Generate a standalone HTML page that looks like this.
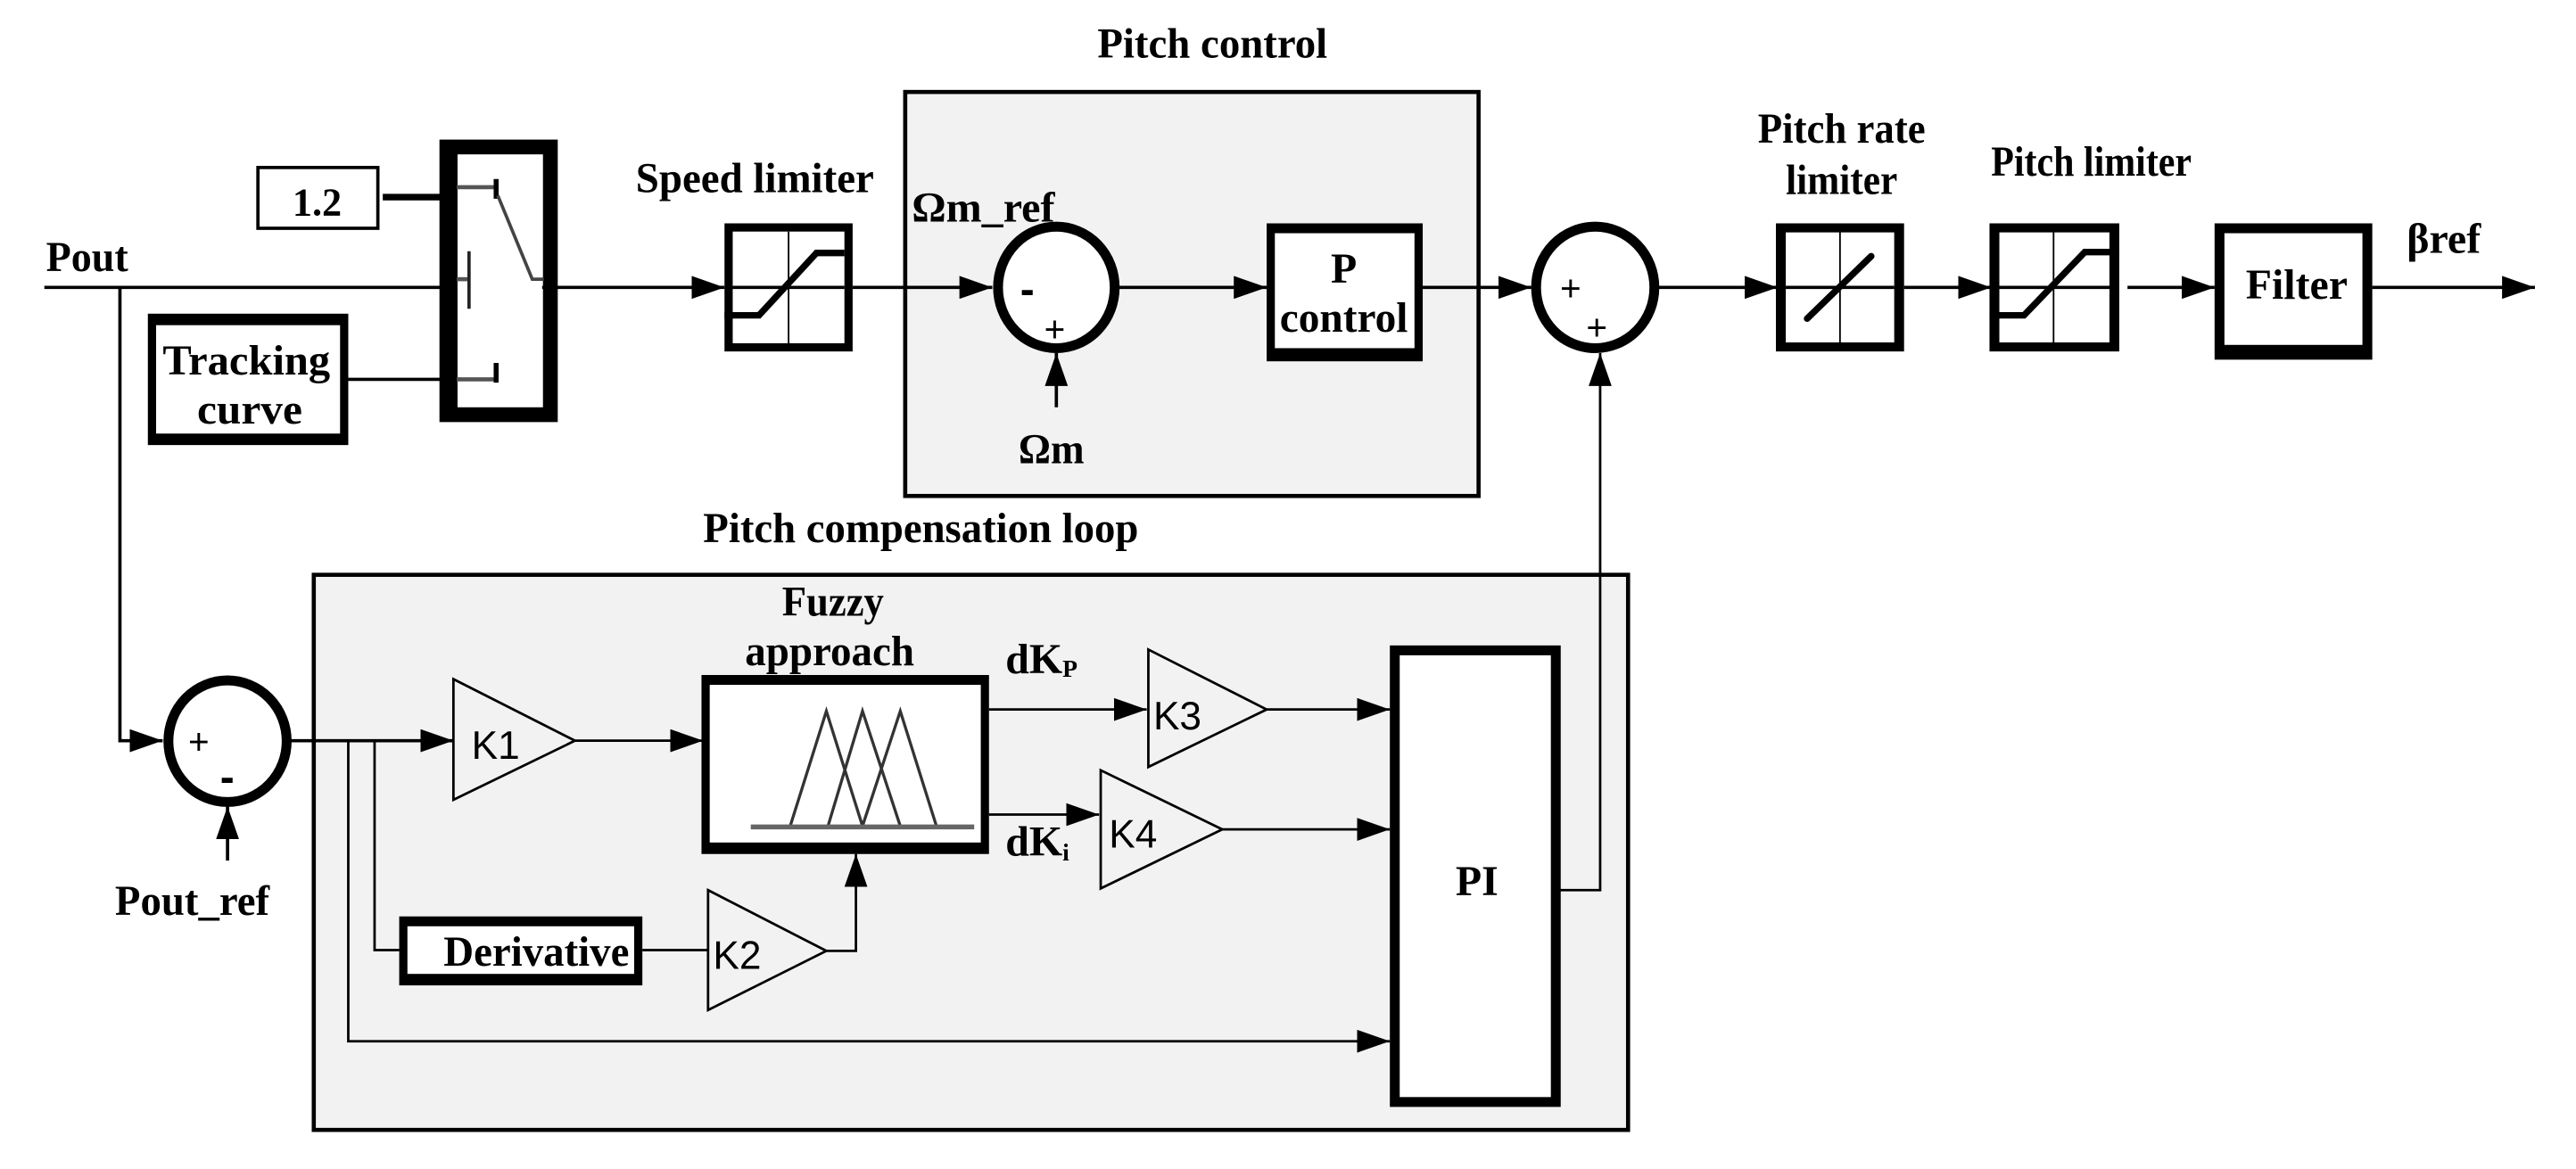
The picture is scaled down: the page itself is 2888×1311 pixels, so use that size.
<!DOCTYPE html>
<html><head><meta charset="utf-8"><style>
html,body{margin:0;padding:0;background:#fff;}
svg{display:block;}
.t{font-family:"Liberation Serif",serif;font-weight:bold;fill:#000;}
.k{font-family:"Liberation Sans",sans-serif;fill:#000;}
</style></head><body>
<svg width="2888" height="1311" viewBox="0 0 1568 711.8" preserveAspectRatio="none" xmlns="http://www.w3.org/2000/svg">
<defs>
<marker id="a" viewBox="0 0 20 14" refX="20" refY="7" markerWidth="20" markerHeight="14" markerUnits="userSpaceOnUse" orient="auto"><path d="M0,0 L20,7 L0,14 z" fill="#000"/></marker>
</defs>
<rect x="0" y="0" width="1568" height="712" fill="#fff"/>

<rect x="551" y="56" width="349" height="246" fill="#f2f2f2" stroke="#000" stroke-width="2.5"/>
<rect x="191" y="350" width="800" height="338" fill="#f2f2f2" stroke="#000" stroke-width="2.5"/>

<text class="t" x="668" y="35" font-size="26" textLength="140" lengthAdjust="spacingAndGlyphs">Pitch control</text>
<text class="t" x="428" y="330" font-size="26" textLength="265" lengthAdjust="spacingAndGlyphs">Pitch compensation loop</text>
<text class="t" x="387" y="117" font-size="26" textLength="145" lengthAdjust="spacingAndGlyphs">Speed limiter</text>
<text class="t" x="1070" y="87" font-size="26" textLength="102" lengthAdjust="spacingAndGlyphs">Pitch rate</text>
<text class="t" x="1087" y="118" font-size="26" textLength="68" lengthAdjust="spacingAndGlyphs">limiter</text>
<text class="t" x="1212" y="107" font-size="26" textLength="122" lengthAdjust="spacingAndGlyphs">Pitch limiter</text>
<text class="t" x="28" y="165" font-size="26" textLength="50" lengthAdjust="spacingAndGlyphs">Pout</text>
<text class="t" x="1465" y="154" font-size="26" textLength="45" lengthAdjust="spacingAndGlyphs">βref</text>

<line x1="27" y1="175" x2="268" y2="175" stroke="#000" stroke-width="2"/>
<polyline points="73,175 73,451 99,451" fill="none" stroke="#000" stroke-width="2" marker-end="url(#a)"/>

<rect x="157" y="102" width="73" height="37" fill="#fff" stroke="#000" stroke-width="2"/>
<text class="t" x="193" y="131" font-size="24" text-anchor="middle">1.2</text>
<line x1="233" y1="120" x2="268" y2="120" stroke="#000" stroke-width="4"/>

<rect x="90" y="191" width="122" height="80" fill="#000"/>
<rect x="95" y="198" width="112" height="66" fill="#fff"/>
<text class="t" x="150" y="228" font-size="26" text-anchor="middle" textLength="102" lengthAdjust="spacingAndGlyphs">Tracking</text>
<text class="t" x="152" y="258" font-size="26" text-anchor="middle" textLength="64" lengthAdjust="spacingAndGlyphs">curve</text>
<line x1="212" y1="231" x2="268" y2="231" stroke="#000" stroke-width="2"/>

<rect x="267.5" y="85" width="72" height="172" fill="#000"/>
<rect x="278.5" y="94" width="52" height="154" fill="#fff"/>
<line x1="278" y1="114" x2="302" y2="114" stroke="#555" stroke-width="2.5"/>
<line x1="302" y1="109" x2="302" y2="121" stroke="#000" stroke-width="3"/>
<polyline points="303,119 324,170 331,170" fill="none" stroke="#444" stroke-width="2"/>
<line x1="278" y1="170" x2="285" y2="170" stroke="#555" stroke-width="2.5"/>
<line x1="285.5" y1="153" x2="285.5" y2="188" stroke="#222" stroke-width="2"/>
<line x1="278" y1="231" x2="302" y2="231" stroke="#555" stroke-width="2.5"/>
<line x1="302" y1="221" x2="302" y2="233" stroke="#000" stroke-width="3"/>

<line x1="330" y1="175" x2="441" y2="175" stroke="#000" stroke-width="2" marker-end="url(#a)"/>
<rect x="441" y="136" width="78" height="78" fill="#000"/>
<rect x="446" y="141" width="68" height="68" fill="#fff"/>
<line x1="480" y1="141" x2="480" y2="209" stroke="#000" stroke-width="1"/>
<line x1="446" y1="175" x2="514" y2="175" stroke="#000" stroke-width="2"/>
<polyline points="441,192 462,192 497,154 514,154" fill="none" stroke="#000" stroke-width="4"/>

<line x1="519" y1="175" x2="604" y2="175" stroke="#000" stroke-width="2" marker-end="url(#a)"/>
<text class="t" x="555" y="135" font-size="26" textLength="87" lengthAdjust="spacingAndGlyphs">Ωm_ref</text>
<ellipse cx="643" cy="175" rx="35.5" ry="37" fill="#fff" stroke="#000" stroke-width="6"/>
<text class="k" x="621" y="185" font-size="26" font-weight="bold">-</text>
<text class="k" x="642" y="208" font-size="22" text-anchor="middle">+</text>
<line x1="643" y1="248" x2="643" y2="215" stroke="#000" stroke-width="2" marker-end="url(#a)"/>
<text class="t" x="620" y="282" font-size="26" textLength="40" lengthAdjust="spacingAndGlyphs">Ωm</text>

<line x1="681" y1="175" x2="771" y2="175" stroke="#000" stroke-width="2" marker-end="url(#a)"/>
<rect x="771" y="136" width="95" height="84" fill="#000"/>
<rect x="776" y="142" width="85" height="70" fill="#fff"/>
<text class="t" x="818" y="172" font-size="26" text-anchor="middle">P</text>
<text class="t" x="818" y="202" font-size="26" text-anchor="middle" textLength="78" lengthAdjust="spacingAndGlyphs">control</text>

<line x1="866" y1="175" x2="932" y2="175" stroke="#000" stroke-width="2" marker-end="url(#a)"/>
<ellipse cx="971" cy="175" rx="36" ry="37" fill="#fff" stroke="#000" stroke-width="6"/>
<text class="k" x="956" y="183" font-size="22" text-anchor="middle">+</text>
<text class="k" x="972" y="207" font-size="22" text-anchor="middle">+</text>
<polyline points="949,542 974,542 974,215" fill="none" stroke="#000" stroke-width="1.5" marker-end="url(#a)"/>

<line x1="1009" y1="175" x2="1082" y2="175" stroke="#000" stroke-width="2" marker-end="url(#a)"/>
<rect x="1081" y="136" width="78" height="78" fill="#000"/>
<rect x="1087" y="141.5" width="66" height="67" fill="#fff"/>
<line x1="1120" y1="141" x2="1120" y2="209" stroke="#000" stroke-width="1"/>
<line x1="1087" y1="175" x2="1153" y2="175" stroke="#000" stroke-width="2"/>
<line x1="1100" y1="194" x2="1139" y2="156" stroke="#000" stroke-width="4" stroke-linecap="round"/>

<line x1="1159" y1="175" x2="1212" y2="175" stroke="#000" stroke-width="2" marker-end="url(#a)"/>
<rect x="1211" y="136" width="79" height="78" fill="#000"/>
<rect x="1217" y="141.5" width="67" height="67" fill="#fff"/>
<line x1="1250" y1="141" x2="1250" y2="209" stroke="#000" stroke-width="1"/>
<line x1="1217" y1="175" x2="1290" y2="175" stroke="#000" stroke-width="2"/>
<polyline points="1211,192 1232,192 1269,153.5 1290,153.5" fill="none" stroke="#000" stroke-width="4"/>

<line x1="1295" y1="175" x2="1348" y2="175" stroke="#000" stroke-width="2" marker-end="url(#a)"/>
<rect x="1348" y="136" width="96" height="83" fill="#000"/>
<rect x="1354" y="142" width="84" height="68" fill="#fff"/>
<text class="t" x="1398" y="182" font-size="26" text-anchor="middle" textLength="62" lengthAdjust="spacingAndGlyphs">Filter</text>
<line x1="1444" y1="175" x2="1543" y2="175" stroke="#000" stroke-width="2" marker-end="url(#a)"/>

<ellipse cx="138.5" cy="451.3" rx="36" ry="37" fill="#fff" stroke="#000" stroke-width="6"/>
<text class="k" x="121" y="459" font-size="22" text-anchor="middle">+</text>
<text class="k" x="134" y="482" font-size="26" font-weight="bold">-</text>
<line x1="138.5" y1="524" x2="138.5" y2="491" stroke="#000" stroke-width="2" marker-end="url(#a)"/>
<text class="t" x="70" y="557" font-size="26" textLength="94" lengthAdjust="spacingAndGlyphs">Pout_ref</text>

<line x1="177" y1="451" x2="276" y2="451" stroke="#000" stroke-width="2" marker-end="url(#a)"/>
<polyline points="212,451 212,634 846,634" fill="none" stroke="#000" stroke-width="1.5" marker-end="url(#a)"/>
<polyline points="228,451 228,578.5 243,578.5" fill="none" stroke="#000" stroke-width="1.5"/>

<polygon points="276,413.5 350,451 276,487" fill="none" stroke="#000" stroke-width="1.5"/>
<text class="k" x="287" y="462" font-size="24">K1</text>
<line x1="350" y1="451" x2="428" y2="451" stroke="#000" stroke-width="1.5" marker-end="url(#a)"/>

<text class="t" x="507" y="375" font-size="26" text-anchor="middle" textLength="62" lengthAdjust="spacingAndGlyphs">Fuzzy</text>
<text class="t" x="505" y="405" font-size="26" text-anchor="middle" textLength="103" lengthAdjust="spacingAndGlyphs">approach</text>
<rect x="427" y="411" width="175" height="109" fill="#000"/>
<rect x="432" y="417" width="165" height="96" fill="#fff"/>
<g fill="none" stroke="#333" stroke-width="1.8">
<polyline points="481,503 503,433 525,503"/>
<polyline points="504,503 525,433 548,503"/>
<polyline points="525,503 548,433 570,503"/>
</g>
<line x1="457" y1="503.5" x2="593" y2="503.5" stroke="#666" stroke-width="3"/>

<rect x="243" y="558" width="148" height="42" fill="#000"/>
<rect x="248" y="564" width="138" height="29" fill="#fff"/>
<text class="t" x="270" y="588" font-size="26" textLength="113" lengthAdjust="spacingAndGlyphs">Derivative</text>
<line x1="391" y1="578.5" x2="431" y2="578.5" stroke="#000" stroke-width="1.5"/>
<polygon points="431,542 503,579 431,615" fill="none" stroke="#000" stroke-width="1.5"/>
<text class="k" x="434" y="590" font-size="24">K2</text>
<polyline points="503,579 521,579 521,520" fill="none" stroke="#000" stroke-width="1.5" marker-end="url(#a)"/>

<line x1="602" y1="432" x2="698" y2="432" stroke="#000" stroke-width="1.5" marker-end="url(#a)"/>
<text class="t" x="612" y="410" font-size="26">dK<tspan font-size="15" dy="2">P</tspan></text>
<line x1="602" y1="496" x2="669" y2="496" stroke="#000" stroke-width="1.5" marker-end="url(#a)"/>
<text class="t" x="612" y="521" font-size="26">dK<tspan font-size="15" dy="3">i</tspan></text>

<polygon points="699,395.5 771,432 699,467" fill="none" stroke="#000" stroke-width="1.5"/>
<text class="k" x="702" y="444" font-size="24">K3</text>
<line x1="771" y1="432" x2="846" y2="432" stroke="#000" stroke-width="1.5" marker-end="url(#a)"/>

<polygon points="670,469 744,505 670,541" fill="none" stroke="#000" stroke-width="1.5"/>
<text class="k" x="675" y="516" font-size="24">K4</text>
<line x1="744" y1="505" x2="846" y2="505" stroke="#000" stroke-width="1.5" marker-end="url(#a)"/>

<rect x="846" y="393" width="104" height="281" fill="#000"/>
<rect x="852" y="399" width="92" height="269" fill="#fff"/>
<text class="t" x="899" y="545" font-size="26" text-anchor="middle">PI</text>
</svg>
</body></html>
